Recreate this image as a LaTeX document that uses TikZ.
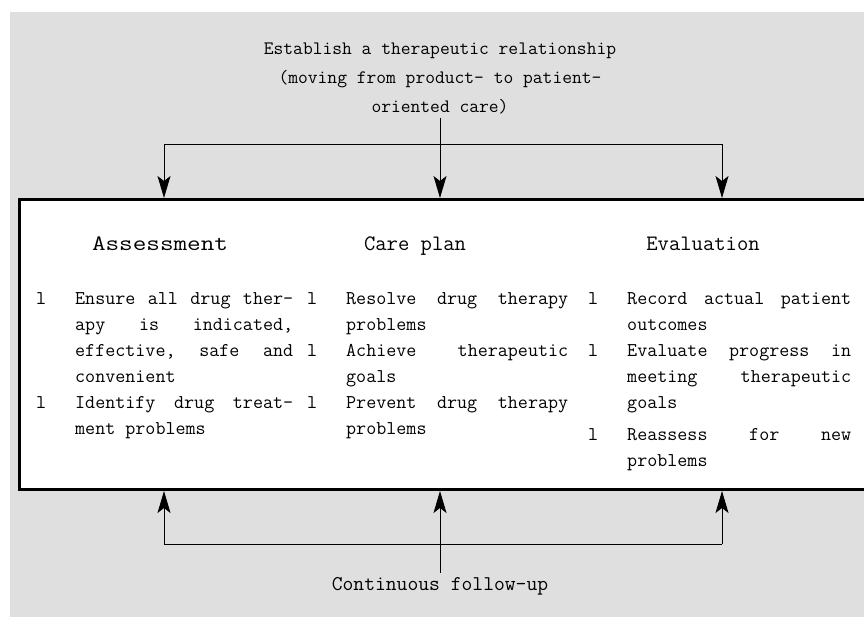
\documentclass[tikz,border=0pt]{standalone}
\usepackage{fontspec}
\usepackage{graphicx}
\usetikzlibrary{arrows.meta}
\newlength\cw
\newlength\bw
\setlength\bw{39pt}
\newcommand\Lb[1]{\hbox{\hbox to\bw{l\hfil}\hbox to\cw{#1}}}
\newcommand\Lc[1]{\hbox{\hskip\bw\hbox to\cw{#1}}}
\begin{document}
\begin{tikzpicture}[x=1pt,y=-1pt,
  conn/.style={line width=0.9pt},
  arr/.style={line width=0.9pt,-{Stealth[length=22pt,width=13pt,inset=5pt]}},
  hdr/.style={font=\ttfamily\fontsize{22}{26}\selectfont, anchor=base, inner sep=0pt},
  col/.style={font=\ttfamily\fontsize{19.5}{26}\selectfont, anchor=base west, inner sep=0pt},
  lbl/.style={inner sep=0pt, anchor=base}]
\useasboundingbox (0,0) rectangle (864,617);
\fill[gray!25] (10,12) rectangle (864,617);
\node[draw, fill=white, line width=3pt, minimum width=860pt, minimum height=290pt,
      inner sep=0pt, anchor=north west] (box) at (18,198) {};
% top label
\node[lbl, font=\ttfamily\fontsize{19}{29}\selectfont] (top) at (440,55)
  {\vtop{\halign{\hfil#\hfil\cr Establish a therapeutic relationship\cr (moving from product- to patient-\cr oriented care)\cr}}};
% headers
\node[hdr] (h1) at (160,251) {\scalebox{1.2}[1]{Assessment}};
\node[hdr] (h2) at (415,251) {Care plan};
\node[hdr] (h3) at (703,251) {Evaluation};
% columns
\node[col] (c1) at (36,305) {\setlength\cw{218pt}\vtop{%
  \Lb{Ensure\hfill all\hfill drug\hfill ther-}
  \Lc{apy\hfill is\hfill indicated,}
  \Lc{effective,\hfill safe\hfill and}
  \Lc{convenient\hfil}
  \Lb{Identify\hfill drug\hfill treat-}
  \Lc{ment problems\hfil}}};
\node[col] (c2) at (307,305) {\setlength\cw{222pt}\vtop{%
  \Lb{Resolve\hfill drug\hfill therapy}
  \Lc{problems\hfil}
  \Lb{Achieve\hfill therapeutic}
  \Lc{goals\hfil}
  \Lb{Prevent\hfill drug\hfill therapy}
  \Lc{problems\hfil}}};
\node[col] (c3) at (588,305) {\setlength\cw{224pt}\vtop{%
  \Lb{Record\hfill actual\hfill patient}
  \Lc{outcomes\hfil}
  \Lb{Evaluate\hfill progress\hfill in}
  \Lc{meeting\hfill therapeutic}
  \Lc{goals\hfil}
  \vskip6pt
  \Lb{Reassess\hfill for\hfill new}
  \Lc{problems\hfil}}};
% bottom label
\node[lbl, font=\ttfamily\fontsize{21}{24}\selectfont] (cont) at (440,590) {Continuous follow-up};
% top connectors
\coordinate (tl) at (164,144);
\coordinate (tr) at (722,144);
\draw[conn] (tl) -- (tr);
\draw[arr] (tl) -- (tl |- box.north);
\draw[arr] (tr) -- (tr |- box.north);
\draw[arr] ([yshift=-3pt]top.south) -- (top.south |- box.north);
% bottom connectors
\coordinate (bl) at (164,544);
\coordinate (br) at (722,544);
\draw[conn] (bl) -- (br);
\draw[arr] (bl) -- (bl |- box.south);
\draw[arr] (br) -- (br |- box.south);
\draw[arr] ([yshift=4pt]cont.north) -- (cont.north |- box.south);
\end{tikzpicture}
\end{document}
